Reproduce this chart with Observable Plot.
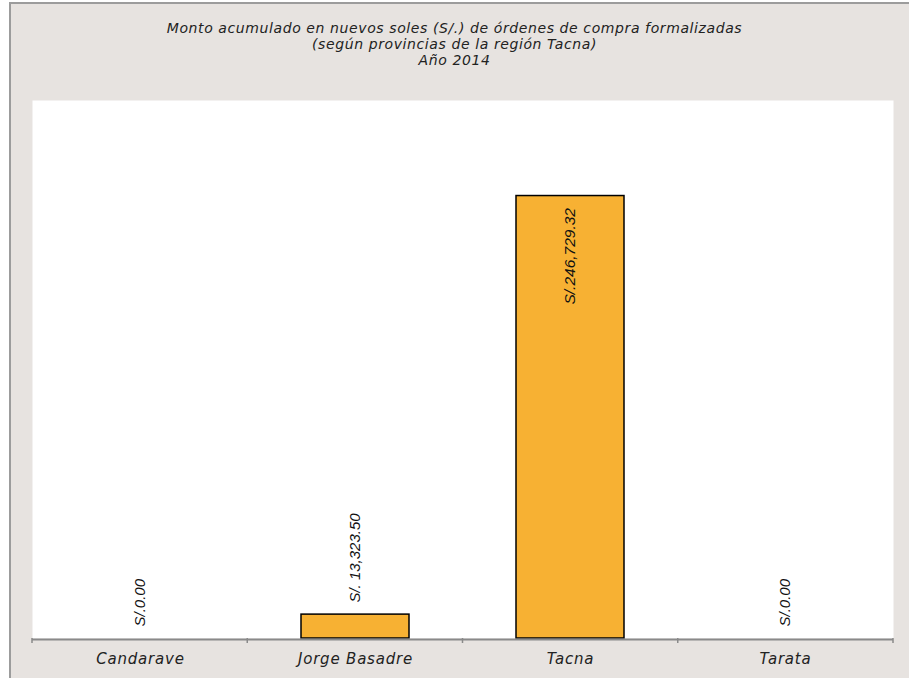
<!DOCTYPE html>
<html>
<head>
<meta charset="utf-8">
<script src="https://cdn.jsdelivr.net/npm/d3@7"></script>
<script src="https://cdn.jsdelivr.net/npm/@observablehq/plot@0.6"></script>
<style>
  html, body { margin: 0; padding: 0; background: #ffffff; }
  #wrap { position: relative; width: 909px; height: 678px; overflow: hidden; }
  #bg { position: absolute; left: 9px; top: 2px; width: 920px; height: 700px;
        background: #e7e3e0; border-top: 2px solid #9c9c9c; border-left: 2px solid #9c9c9c; box-sizing: border-box; }
  #title { position: absolute; left: 0; top: 20px; width: 909px; text-align: center;
           font-family: "DejaVu Sans", sans-serif; font-style: italic; font-size: 14px;
           letter-spacing: 0.6px; line-height: 16px; color: #222; }
  #chart { position: absolute; left: 0; top: 80px; }
  #chart svg { background: transparent !important; overflow: visible; }
</style>
</head>
<body>
<div id="wrap">
  <div id="bg"></div>
  <div id="title">Monto acumulado en nuevos soles (S/.) de órdenes de compra formalizadas<br>(según provincias de la región Tacna)<br>Año 2014</div>
  <div id="chart"></div>
</div>
<script>
const provincias = ["Candarave", "Jorge Basadre", "Tacna", "Tarata"];
const montos = [0, 13323.50, 246729.32, 0];
const etiquetas = ["S/.0.00", "S/. 13,323.50", "S/.246,729.32", "S/.0.00"];
const yMax = 300000;

const data = provincias.map((p, i) => ({provincia: p, monto: montos[i], etiqueta: etiquetas[i]}));

const plot = Plot.plot({
  width: 909,
  height: 598,
  marginTop: 20,
  marginBottom: 40,
  marginLeft: 32,
  marginRight: 16,
  style: {background: "transparent", overflow: "visible"},
  x: {domain: provincias, paddingInner: 0.5, paddingOuter: 0.25, label: null,
      tickSize: 0, tickPadding: 15},
  y: {domain: [0, yMax], axis: null},
  marks: [
    Plot.frame({fill: "white", stroke: "none"}),
    Plot.barY(data.filter(d => d.monto > 0), {x: "provincia", y: "monto", fill: "#f7b133", stroke: "#000", strokeWidth: 1.5}),
    Plot.ruleY([0], {stroke: "#8a8a8a", strokeWidth: 2, dy: 1}),
    Plot.text(data.filter(d => d.monto < yMax / 3), {x: "provincia", y: "monto", text: "etiqueta", rotate: -90,
      textAnchor: "start", dy: -12, fontSize: 15, fontStyle: "italic", fill: "#111", fontFamily: "Liberation Sans, Arial, sans-serif"}),
    Plot.text(data.filter(d => d.monto >= yMax / 3), {x: "provincia", y: "monto", text: "etiqueta", rotate: -90,
      textAnchor: "end", dy: 12, fontSize: 15.5, fontStyle: "italic", fill: "#111", fontFamily: "Liberation Sans, Arial, sans-serif"})
  ]
});

document.getElementById("chart").appendChild(plot);

// style x-axis labels
const svg = d3.select(plot);
svg.selectAll("[aria-label='x-axis tick label'], g[aria-label='x-axis']")
  .attr("font-size", 15).attr("font-style", "italic")
  .attr("font-family", "DejaVu Sans, sans-serif").attr("fill", "#222")
  .attr("letter-spacing", "0.8px");
svg.selectAll("[aria-label='x-axis tick label'] text, g[aria-label='x-axis'] text")
  .attr("font-size", 15).attr("font-style", "italic")
  .attr("font-family", "DejaVu Sans, sans-serif").attr("fill", "#222")
  .attr("letter-spacing", "0.8px");

// boundary ticks between categories, from the plot's x scale
const sx = plot.scale("x");
const sy = plot.scale("y");
const band = d3.scaleBand().domain(sx.domain).range(sx.range)
  .paddingInner(sx.paddingInner).paddingOuter(sx.paddingOuter).align(sx.align ?? 0.5);
const yBase = d3.scaleLinear().domain(sy.domain).range(sy.range)(0);
const step = band.step();
const bounds = provincias.map(p => band(p) + band.bandwidth() / 2 - step / 2);
bounds.push(band(provincias[provincias.length - 1]) + band.bandwidth() / 2 + step / 2);
svg.append("g").selectAll("line").data(bounds).join("line")
  .attr("x1", d => d).attr("x2", d => d)
  .attr("y1", yBase).attr("y2", yBase + 5)
  .attr("stroke", "#8a8a8a").attr("stroke-width", 1.5);
</script>
</body>
</html>
